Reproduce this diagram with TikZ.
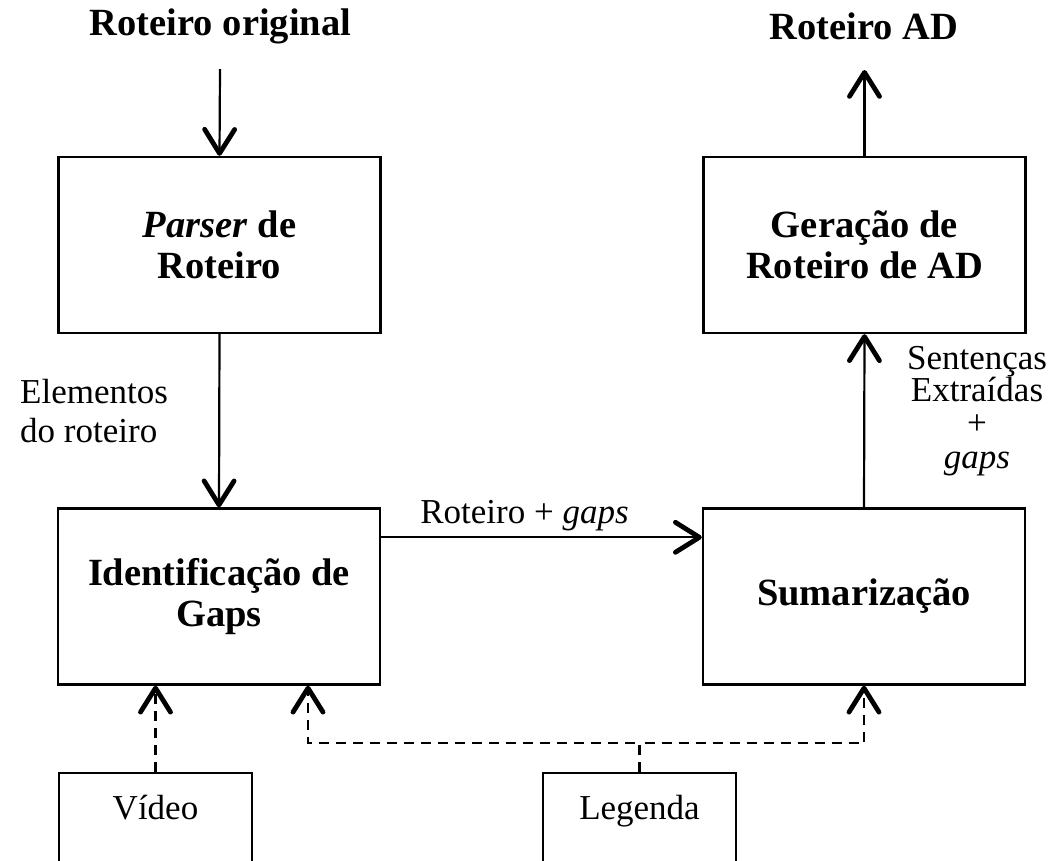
\documentclass[tikz,border=0pt]{standalone}
\usepackage{fontspec}
\setmainfont{Liberation Serif}
\usetikzlibrary{arrows.meta}
\begin{document}
\begin{tikzpicture}[x=1pt,y=-1pt,
  mainbox/.style={draw, line width=2.4pt, minimum width=322pt, minimum height=176pt, align=center, inner sep=0pt, font=\fontsize{38.5}{41}\selectfont\bfseries},
  srcbox/.style={draw, line width=2pt, minimum width=193pt, inner sep=0pt, text height=46pt, text depth=74pt, font=\fontsize{35}{39}\selectfont},
  lbl/.style={font=\fontsize{35}{39}\selectfont, inner sep=0pt},
  ttl/.style={font=\fontsize{38.5}{41}\selectfont\bfseries, inner sep=0pt},
  bartip/.style={-{Straight Barb[length=24pt,width=30pt,line width=4.8pt,round]}},
  conn/.style={line width=2.2pt, bartip},
  dsh/.style={line width=2.2pt, dash pattern=on 10pt off 7pt},
]
\useasboundingbox (0,0) rectangle (1051,860);
\clip (0,0) rectangle (1051,860);

% titles
\node[ttl, anchor=base] (orig) at (220.5,35) {Roteiro original};
\node[ttl, anchor=base] (ad) at (864,39) {Roteiro AD};

% main boxes
\node[mainbox] (parser) at (219.5,245) {\textit{Parser} de\\Roteiro};
\node[mainbox] (gera) at (864.5,245) {Geração de\\Roteiro de AD};
\node[mainbox] (ident) at (219,596.5) {Identificação de\\Gaps};
\node[mainbox] (suma) at (864,596.5) {Sumarização};

% source boxes
\node[srcbox, anchor=north] (video) at (155.5,772) {Vídeo};
\node[srcbox, anchor=north] (legenda) at (639.5,772) {Legenda};

% free ends
\coordinate (origbot) at (220,69);
\coordinate (adtop) at (864.5,70);
\coordinate (jl) at (308,743);
\coordinate (jr) at (864,743);

% solid connectors
\draw[conn] (origbot) -- (parser.north);
\draw[conn] (gera.north) -- (adtop);
\draw[conn] (parser.south) -- (ident.north);
\draw[conn] ([yshift=-30pt]ident.north east) -- ([yshift=-30pt]suma.north west);
\draw[conn] (suma.north) -- (gera.south);

% labels
\node[lbl, anchor=base west, align=left] (elem) at (20,442) {Elementos\\do roteiro};
\node[lbl, anchor=base] (rg) at (524.5,523) {Roteiro + \textit{gaps}};
\node[lbl, anchor=base, align=center] (sent) at (977,468) {Sentenças\\[-7pt]Extraídas\\[-6pt]+\\[-5pt]\textit{gaps}};

% dashed connectors
\draw[dsh, bartip] (video.north) -- (video.north |- ident.south);
\draw[dsh, bartip] (legenda.north) |- (jl) -- (jl |- ident.south);
\draw[dsh, bartip] (legenda.north) |- (jr) -- (suma.south);
\end{tikzpicture}
\end{document}
